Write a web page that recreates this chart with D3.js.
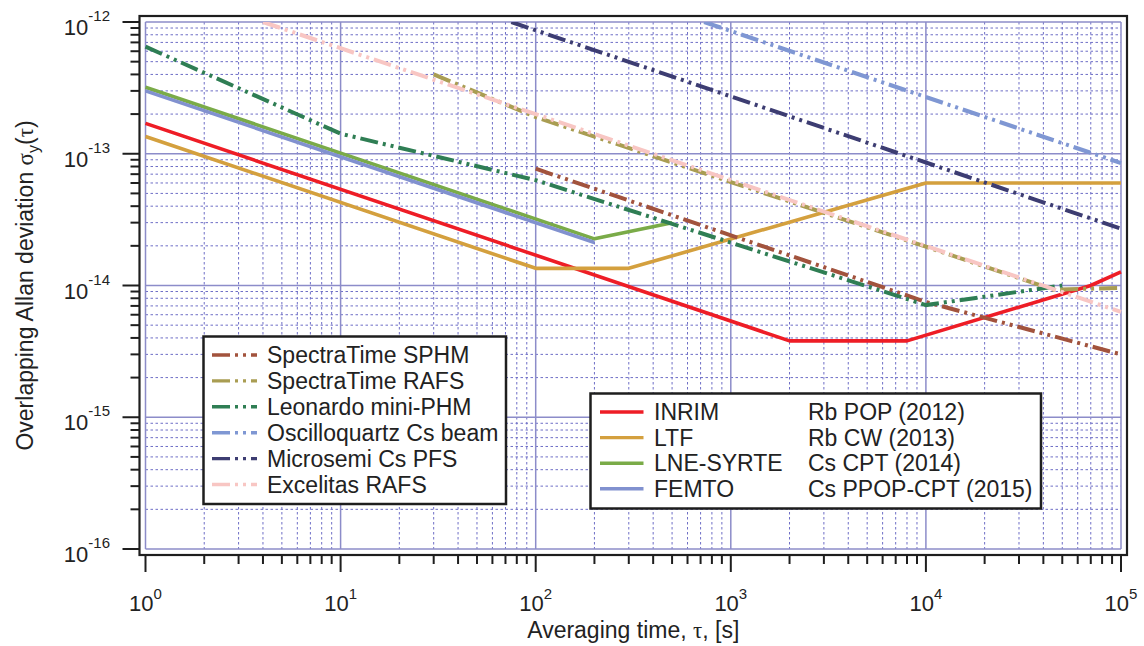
<!DOCTYPE html>
<html>
<head>
<meta charset="utf-8">
<script src="https://cdn.jsdelivr.net/npm/d3@7"></script>
<style>
  html, body { margin: 0; padding: 0; background: #fff; }
  svg { display: block; }
  text { font-family: "Liberation Sans", Arial, Helvetica, sans-serif; fill: #222; }
</style>
</head>
<body>
<svg id="chart" width="1144" height="646"></svg>
<script>
// ---- data: [averaging time (s), overlapping Allan deviation] ----
const inrim      = [[1, 1.7e-13], [2000, 3.8e-15], [8000, 3.8e-15], [7e4, 1.0e-14], [1e5, 1.27e-14]];
const ltf        = [[1, 1.35e-13], [100, 1.35e-14], [300, 1.35e-14], [1e4, 6.0e-14], [1e5, 6.0e-14]];
const lneSyrte   = [[1, 3.2e-13], [200, 2.26e-14], [500, 3.0e-14]];
const femto      = [[1, 3.0e-13], [200, 2.12e-14]];

const sphm       = [[100, 7.7e-14], [1e4, 7.5e-15], [1e5, 3.0e-15]];
const rafsST     = [[30, 4.0e-13], [100, 1.9e-13], [1000, 6.1e-14], [1e4, 1.97e-14], [4.5e4, 9.3e-15], [1e5, 9.6e-15]];
const miniPHM    = [[1, 6.5e-13], [10, 1.42e-13], [100, 6.3e-14], [1e4, 7.1e-15], [5e4, 1.0e-14]];
const csBeam     = [[730, 1.0e-12], [1e5, 8.5e-14]];
const csPFS      = [[75, 1.0e-12], [1e5, 2.7e-14]];
const rafsExc    = [[4, 1.0e-12], [1e5, 6.3e-15]];

// ---- legend texts ----
const commercialNames = ["SpectraTime SPHM", "SpectraTime RAFS", "Leonardo mini-PHM",
                         "Oscilloquartz Cs beam", "Microsemi Cs PFS", "Excelitas RAFS"];
const labNames        = ["INRIM", "LTF", "LNE-SYRTE", "FEMTO"];
const labClocks       = ["Rb POP (2012)", "Rb CW (2013)", "Cs CPT (2014)", "Cs PPOP-CPT (2015)"];

// ---- axis ticks ----
const xDecades = [0, 1, 2, 3, 4, 5];
const yDecades = [-16, -15, -14, -13, -12];
const minorSteps = [2, 3, 4, 5, 6, 7, 8, 9];

// ---- styles ----
const labSeries = [
  { data: inrim,    color: "#ee1d26" },
  { data: ltf,      color: "#d4a03e" },
  { data: lneSyrte, color: "#7aab48" },
  { data: femto,    color: "#8191cf" }
];
const commercialSeries = [
  { data: sphm,     color: "#a2533d" },
  { data: rafsST,   color: "#a99d52" },
  { data: miniPHM,  color: "#2f7e54" },
  { data: csBeam,   color: "#7f97d3" },
  { data: csPFS,    color: "#3d3d72" },
  { data: rafsExc,  color: "#f8c6c3" }
];
const DASH = "18,5,3,5,3,5";

const svg = d3.select("#chart");

const x = d3.scaleLog().domain([1, 1e5]).range([145.5, 1121]);
const y = d3.scaleLog().domain([1e-16, 1e-12]).range([549, 22]);

const frame = { left: 139.5, top: 16, right: 1127, bottom: 555 };

// tick values built from decades
const xMajor = xDecades.map(e => Math.pow(10, e));
const yMajor = yDecades.map(e => Math.pow(10, e));
const xMinor = xDecades.slice(0, -1).flatMap(e => minorSteps.map(m => m * Math.pow(10, e)));
const yMinor = yDecades.slice(0, -1).flatMap(e => minorSteps.map(m => m * Math.pow(10, e)));

// ---- grid ----
const grid = svg.append("g");
grid.selectAll(".gxm").data(xMinor).join("line")
  .attr("x1", d => x(d)).attr("x2", d => x(d))
  .attr("y1", y(1e-12)).attr("y2", y(1e-16))
  .attr("stroke", "#6e6ec6").attr("stroke-width", 1).attr("stroke-dasharray", "2.5,2.5");
grid.selectAll(".gym").data(yMinor).join("line")
  .attr("y1", d => y(d)).attr("y2", d => y(d))
  .attr("x1", x(1)).attr("x2", x(1e5))
  .attr("stroke", "#6e6ec6").attr("stroke-width", 1).attr("stroke-dasharray", "2.5,2.5");
grid.selectAll(".gxM").data(xMajor).join("line")
  .attr("x1", d => x(d)).attr("x2", d => x(d))
  .attr("y1", y(1e-12)).attr("y2", y(1e-16))
  .attr("stroke", "#8c8cc9").attr("stroke-width", 1.5);
grid.selectAll(".gyM").data(yMajor).join("line")
  .attr("y1", d => y(d)).attr("y2", d => y(d))
  .attr("x1", x(1)).attr("x2", x(1e5))
  .attr("stroke", "#8c8cc9").attr("stroke-width", 1.5);

// ---- curves ----
svg.append("clipPath").attr("id", "plotClip")
  .append("rect")
  .attr("x", frame.left).attr("y", y(1e-12))
  .attr("width", frame.right - frame.left).attr("height", frame.bottom - y(1e-12));

const line = d3.line().x(d => x(d[0])).y(d => y(d[1]));
const curves = svg.append("g").attr("clip-path", "url(#plotClip)");

curves.selectAll(".lab").data(labSeries).join("path")
  .attr("d", d => line(d.data))
  .attr("fill", "none").attr("stroke", d => d.color)
  .attr("stroke-width", 3.6).attr("stroke-linejoin", "round");

curves.selectAll(".com").data(commercialSeries).join("path")
  .attr("d", d => line(d.data))
  .attr("fill", "none").attr("stroke", d => d.color)
  .attr("stroke-width", 4).attr("stroke-dasharray", DASH);

// ---- frame and ticks ----
svg.append("rect")
  .attr("x", frame.left).attr("y", frame.top)
  .attr("width", frame.right - frame.left).attr("height", frame.bottom - frame.top)
  .attr("fill", "none").attr("stroke", "#1e1e1e").attr("stroke-width", 2.2);

const ticks = svg.append("g").attr("stroke", "#1e1e1e").attr("stroke-width", 2);
ticks.selectAll(".xt").data(xMajor.map(v => [v, 17]).concat(xMinor.map(v => [v, 9]))).join("line")
  .attr("x1", d => x(d[0])).attr("x2", d => x(d[0]))
  .attr("y1", frame.bottom).attr("y2", d => frame.bottom + d[1]);
ticks.selectAll(".yt").data(yMajor.map(v => [v, 17]).concat(yMinor.map(v => [v, 9]))).join("line")
  .attr("y1", d => y(d[0])).attr("y2", d => y(d[0]))
  .attr("x1", frame.left).attr("x2", d => frame.left - d[1]);

// tick labels: 10 with superscript exponent
svg.selectAll(".xl").data(xDecades).join("text")
  .attr("x", e => x(Math.pow(10, e))).attr("y", 611)
  .attr("text-anchor", "middle").attr("font-size", 22)
  .each(function (e) {
    const t = d3.select(this);
    t.append("tspan").text("10");
    t.append("tspan").attr("dy", -12.5).attr("font-size", 15).text(e);
  });
svg.selectAll(".yl").data(yDecades).join("text")
  .attr("x", 110).attr("y", e => y(Math.pow(10, e)) + 13)
  .attr("text-anchor", "end").attr("font-size", 22)
  .each(function (e) {
    const t = d3.select(this);
    t.append("tspan").text("10");
    t.append("tspan").attr("dy", -14).attr("font-size", 15).text(e);
  });

// axis titles
const xt = svg.append("text")
  .attr("x", (x(1) + x(1e5)) / 2).attr("y", 638)
  .attr("text-anchor", "middle").attr("font-size", 23);
xt.append("tspan").text("Averaging time, ");
xt.append("tspan").attr("font-family", "'Liberation Serif', 'Times New Roman', serif").text("τ");
xt.append("tspan").text(", [s]");

const yc = (y(1e-12) + y(1e-16)) / 2;
const yt = svg.append("text")
  .attr("transform", `translate(33,${yc}) rotate(-90)`)
  .attr("text-anchor", "middle").attr("font-size", 23);
yt.append("tspan").text("Overlapping Allan deviation ");
yt.append("tspan").attr("font-family", "'Liberation Serif', 'Times New Roman', serif").text("σ");
yt.append("tspan").attr("font-size", 16).attr("dy", 6).text("y");
yt.append("tspan").attr("dy", -6).text("(");
yt.append("tspan").attr("font-family", "'Liberation Serif', 'Times New Roman', serif").text("τ");
yt.append("tspan").text(")");

// ---- legend: commercial clocks ----
const lg1 = svg.append("g");
lg1.append("rect").attr("x", 203.5).attr("y", 336.5).attr("width", 302.5).attr("height", 167.5)
  .attr("fill", "#fff").attr("stroke", "#1e1e1e").attr("stroke-width", 2.5);
const rows1 = lg1.selectAll(".r").data(commercialNames).join("g")
  .attr("transform", (d, i) => `translate(0,${355 + i * 25.9})`);
rows1.append("line")
  .attr("x1", 212).attr("x2", 257).attr("y1", 0).attr("y2", 0)
  .attr("stroke", (d, i) => commercialSeries[i].color)
  .attr("stroke-width", 3.4).attr("stroke-dasharray", DASH);
rows1.append("text").attr("x", 267).attr("y", 8.2).attr("font-size", 23).text(d => d);

// ---- legend: laboratory clocks ----
const lg2 = svg.append("g");
lg2.append("rect").attr("x", 590.5).attr("y", 393.5).attr("width", 450.5).attr("height", 115)
  .attr("fill", "#fff").attr("stroke", "#1e1e1e").attr("stroke-width", 2.5);
const rows2 = lg2.selectAll(".r").data(labNames).join("g")
  .attr("transform", (d, i) => `translate(0,${412 + i * 25.6})`);
rows2.append("line")
  .attr("x1", 600).attr("x2", 643.5).attr("y1", 0).attr("y2", 0)
  .attr("stroke", (d, i) => labSeries[i].color).attr("stroke-width", 3.4);
rows2.append("text").attr("x", 654).attr("y", 8.2).attr("font-size", 23).text(d => d);
rows2.append("text").attr("x", 808).attr("y", 8.2).attr("font-size", 23).text((d, i) => labClocks[i]);
</script>
</body>
</html>
